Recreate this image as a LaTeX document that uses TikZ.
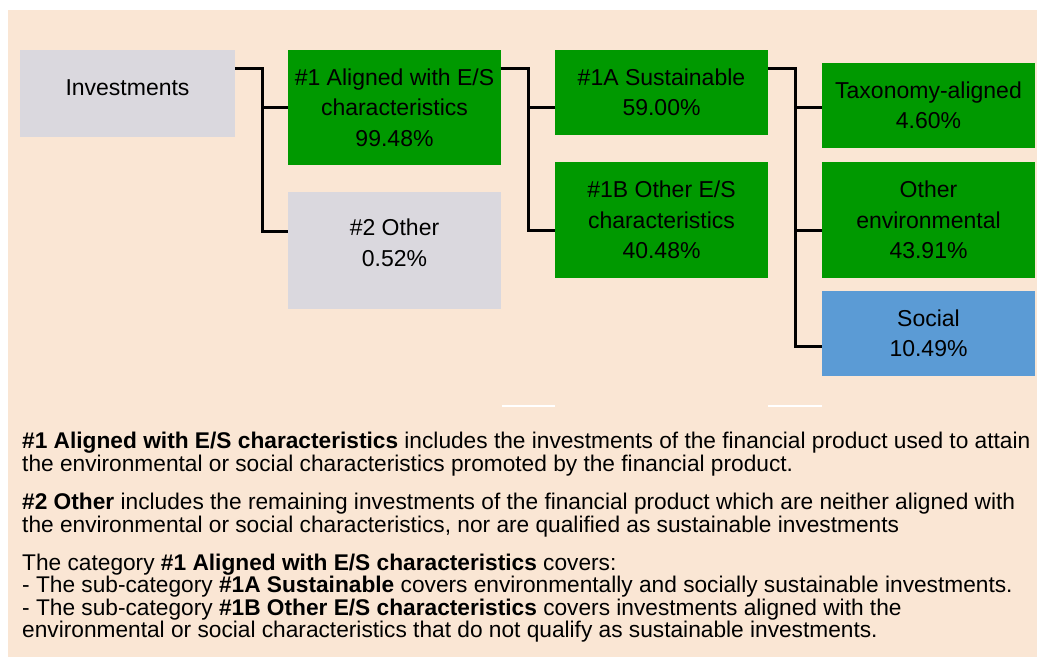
\documentclass[tikz,border=0pt]{standalone}
\usepackage{fontspec}
\setmainfont{Liberation Sans}
\definecolor{peach}{HTML}{FAE6D4}
\definecolor{boxgray}{HTML}{DAD8DE}
\definecolor{boxgreen}{HTML}{009900}
\definecolor{boxblue}{HTML}{5B9BD5}
\begin{document}
\begin{tikzpicture}[x=1pt,y=-1pt,
  box/.style={rectangle, inner sep=0pt, align=center, text=black,
    font=\fontsize{23}{30.5}\selectfont, minimum width=213pt},
  graybox/.style={box, fill=boxgray},
  greenbox/.style={box, fill=boxgreen},
  bluebox/.style={box, fill=boxblue},
  conn/.style={line width=3pt, black, line join=miter},
  txt/.style={anchor=north west, inner sep=0pt, align=left, text=black,
    font=\fontsize{22.7}{23}\selectfont},
  sepline/.style={white, line width=1.5pt}]
\useasboundingbox (0,0) rectangle (1037,657);
\fill[white] (0,0) rectangle (1037,657);
\fill[peach] (8,10) rectangle (1037,657);

\node[graybox, minimum width=215pt, minimum height=87pt] (inv) at (127.5,93.5)
  {\raisebox{5.5pt}[\height][\depth]{Investments}};
\node[greenbox, minimum height=115pt] (a1) at (394.5,107.5)
  {\#1 Aligned with E/S\\characteristics\\99.48\%};
\node[graybox, minimum height=117pt] (o2) at (394.5,250.5)
  {\raisebox{5.5pt}[\height][\depth]{\begin{tabular}{@{}c@{}}\#2 Other\\0.52\%\end{tabular}}};
\node[greenbox, minimum height=85pt] (s1a) at (661.5,92.5)
  {\#1A Sustainable\\59.00\%};
\node[greenbox, minimum height=116pt] (o1b) at (661.5,220)
  {\#1B Other E/S\\characteristics\\40.48\%};
\node[greenbox, minimum height=85pt] (tax) at (928.5,105.5)
  {Taxonomy-aligned\\4.60\%};
\node[greenbox, minimum height=116pt] (oenv) at (928.5,220)
  {Other\\environmental\\43.91\%};
\node[bluebox, minimum height=85pt] (soc) at (928.5,333.5)
  {Social\\10.49\%};

\coordinate (j1) at (262,68);
\coordinate (j2) at (528,68);
\coordinate (j3) at (795,68);

\draw[conn] (inv.east |- j1) -- (j1) -- (j1 |- 0,231) -- (o2.west |- 0,231);
\draw[conn] (j1 |- a1.west) -- (a1.west);
\draw[conn] (a1.east |- j2) -- (j2) -- (j2 |- 0,230) -- (o1b.west |- 0,230);
\draw[conn] (j2 |- 0,107) -- (s1a.west |- 0,107);
\draw[conn] (s1a.east |- j3) -- (j3) -- (j3 |- 0,346) -- (soc.west |- 0,346);
\draw[conn] (j3 |- 0,107) -- (tax.west |- 0,107);
\draw[conn] (j3 |- 0,230) -- (oenv.west |- 0,230);

\draw[sepline] (502,406) -- (555,406);
\draw[sepline] (768,406) -- (822,406);

\node[txt] (p1) at (22,432) {\textbf{\#1 Aligned with E/S characteristics} includes the investments of the financial product used to attain\\the environmental or social characteristics promoted by the financial product.};
\node[txt] (p2) at (22,493) {\textbf{\#2 Other} includes the remaining investments of the financial product which are neither aligned with\\the environmental or social characteristics, nor are qualified as sustainable investments};
\node[txt, font=\fontsize{22.7}{22.3}\selectfont] (p3) at (22,554) {The category \textbf{\#1 Aligned with E/S characteristics} covers:\\- The sub-category \textbf{\#1A Sustainable} covers environmentally and socially sustainable investments.\\- The sub-category \textbf{\#1B Other E/S characteristics} covers investments aligned with the\\environmental or social characteristics that do not qualify as sustainable investments.};
\end{tikzpicture}
\end{document}
